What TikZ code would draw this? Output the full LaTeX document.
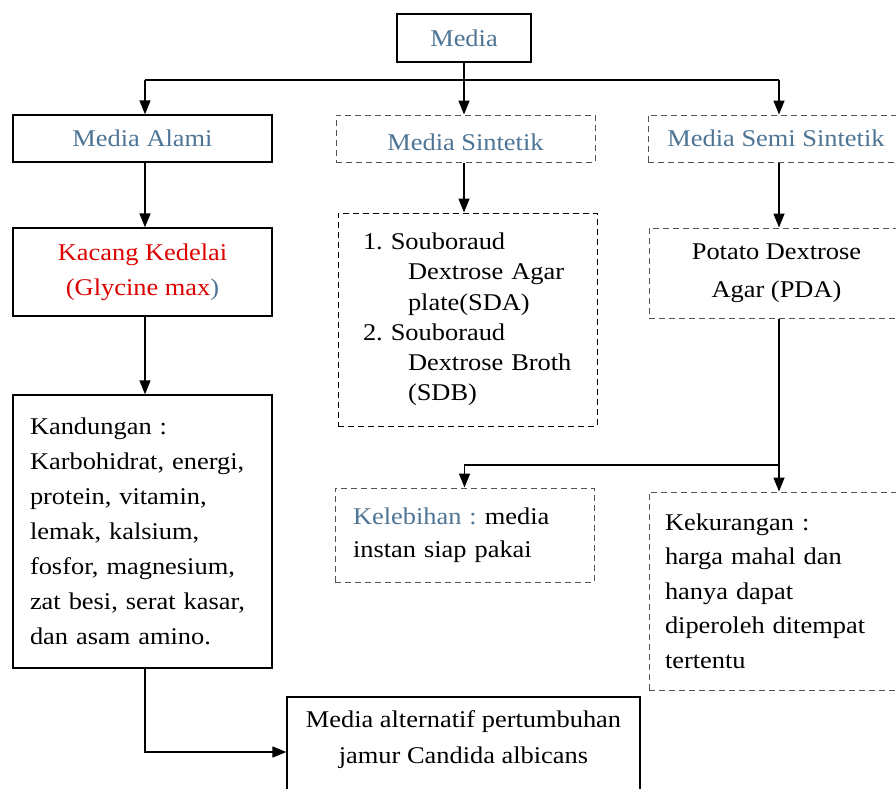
\documentclass[tikz,border=0pt]{standalone}
\usepackage{fontspec}
\setmainfont{Liberation Serif}[FakeStretch=1.1]
\usetikzlibrary{arrows.meta}
\definecolor{tblue}{RGB}{78,117,149}
\definecolor{tred}{RGB}{220,0,0}
\definecolor{dgray}{RGB}{85,85,85}
\newcommand{\fs}[1]{\fontsize{24}{#1}\selectfont}
\frenchspacing
\begin{document}
\begin{tikzpicture}[x=1pt,y=-1pt,
  solidbox/.style={draw=black, line width=1.3pt, inner sep=0pt, font=\fs{35}},
  dashbox/.style={draw=dgray, line width=1pt, dash pattern=on 6pt off 4pt, inner sep=0pt, font=\fs{35}},
  txt/.style={inner sep=0pt},
  conn/.style={line width=1.5pt, draw=black},
  arr/.style={line width=1.5pt, draw=black, -{Triangle[length=14pt,width=11pt]}}]
\useasboundingbox (0,0) rectangle (896,788);
\clip (0,0) rectangle (896,788);
\fill[white] (0,0) rectangle (896,788);

% top
\node[solidbox, minimum width=134pt, minimum height=48pt, text=tblue] (media) at (464,38) {Media};

% level 1
\node[solidbox, minimum width=259pt, minimum height=47pt, text=tblue] (ma) at (142.5,138.5) {Media Alami};
\node[dashbox, minimum width=259pt, minimum height=47pt, text=tblue] (ms) at (465.5,138.5) {\raisebox{-4pt}[\height][\depth]{Media Sintetik}};
\node[dashbox, minimum width=256pt, minimum height=47pt, text=tblue] (mss) at (776,138.5) {Media Semi Sintetik};

% left column
\node[solidbox, minimum width=259pt, minimum height=88pt, align=center, text=tred] (kc) at (142.5,272)
  {Kacang Kedelai\\(Glycine max{\color{tblue})}};
\node[solidbox, minimum width=259pt, minimum height=273pt, text width=225pt, align=left, font=\fs{35}] (kd) at (142.5,531.5)
  {Kandungan :\\Karbohidrat, energi,\\protein, vitamin,\\lemak, kalsium,\\fosfor, magnesium,\\zat besi, serat kasar,\\dan asam amino.};

% middle column
\node[dashbox, draw=black, minimum width=259pt, minimum height=213pt, text width=209pt, align=left, font=\fs{30.2}] (sl) at (467.5,319.5)
  {1.\,\,Souboraud\\\hspace*{45pt}Dextrose Agar\\\hspace*{45pt}plate(SDA)\\2.\,\,Souboraud\\\hspace*{45pt}Dextrose Broth\\\hspace*{45pt}(SDB)};

% right column
\node[dashbox, minimum width=255pt, minimum height=90pt, align=center, font=\fs{38}] (pda) at (776.5,273)
  {Potato Dextrose\\Agar (PDA)};

% lower row
\node[dashbox, minimum width=259pt, minimum height=94pt, text width=223pt, align=left, font=\fs{33}] (kl) at (464.5,535)
  {{\color{tblue}Kelebihan :} media\\instan siap pakai};
\node[dashbox, minimum width=255pt, minimum height=198pt, text width=223pt, align=left, font=\fs{34.5}] (kk) at (776.5,591)
  {Kekurangan :\\harga mahal dan\\hanya dapat\\diperoleh ditempat\\tertentu};

% bottom
\node[solidbox, minimum width=353pt, minimum height=122pt] (bot) at (463.5,758) {};
\node[txt, align=center, font=\fs{36}] (bottxt) at (463.5,740)
  {Media alternatif pertumbuhan\\jamur Candida albicans};

% connectors
\coordinate (busL) at (145,80);
\coordinate (busR) at (779,80);
\coordinate (br) at (779,465);
\draw[conn] (busL) -- (busR);
\draw[arr] (media.south) -- (media.south |- ms.north);
\draw[arr] (busL) -- (busL |- ma.north);
\draw[arr] (busR) -- (busR |- mss.north);
\draw[arr] (busL |- ma.south) -- (busL |- kc.north);
\draw[arr] (busL |- kc.south) -- (busL |- kd.north);
\draw[arr] (media.south |- ms.south) -- (media.south |- sl.north);
\draw[arr] (busR |- mss.south) -- (busR |- pda.north);
\draw[arr] (busR |- pda.south) -- (busR |- kk.north);
\draw[arr] (br) -| (kl.north);
\draw[arr] (busL |- kd.south) |- ([yshift=6pt]bot.west);
\end{tikzpicture}
\end{document}
